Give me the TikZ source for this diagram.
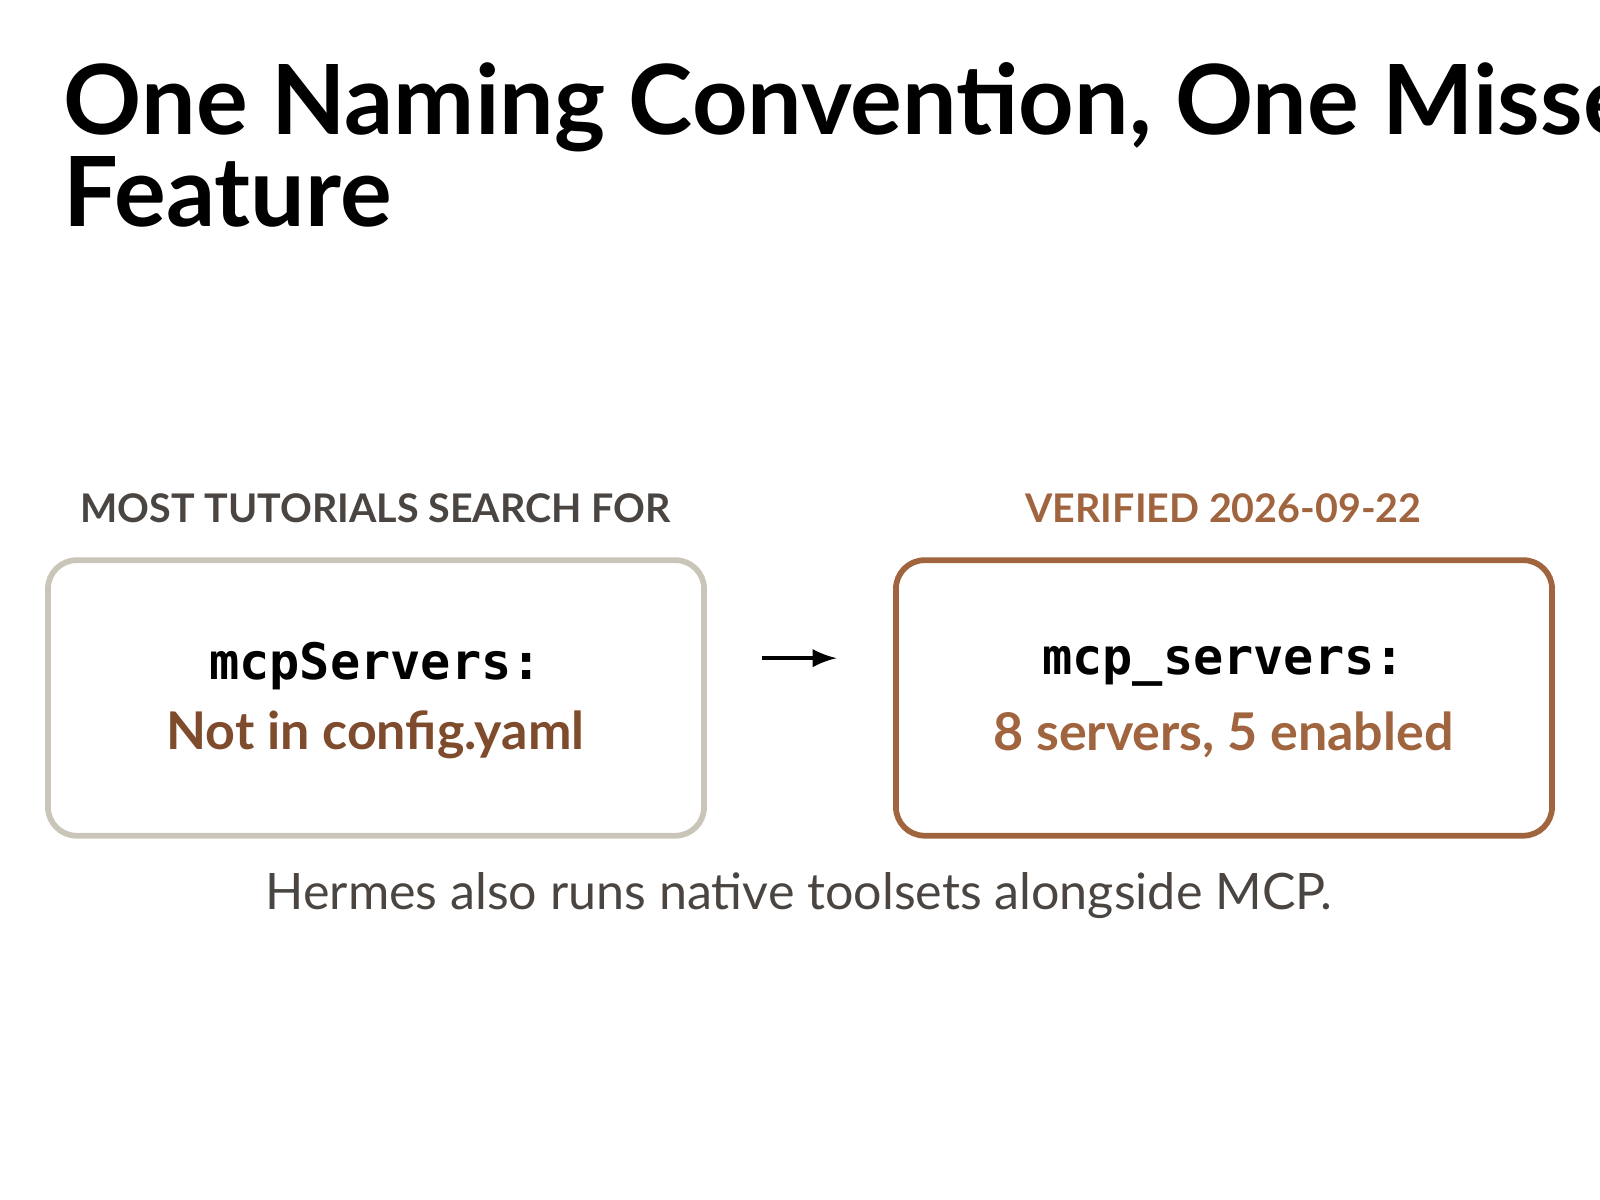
\documentclass[tikz,border=0pt]{standalone}
\usepackage{fontspec}
\setmainfont{Lato}
\setmonofont{DejaVu Sans Mono}
\usetikzlibrary{positioning}
\definecolor{rust}{HTML}{A0643F}
\definecolor{darkrust}{HTML}{7E4B2C}
\definecolor{stone}{HTML}{CAC5B9}
\definecolor{ink}{HTML}{4A4541}
\tikzset{
    card/.style={draw, line width=1.6pt, rounded corners=8pt, minimum width=6.43cm, minimum height=2.7cm},
    heading/.style={text=ink, font=\bfseries\fontsize{11}{13}\selectfont},
    key/.style={font=\ttfamily\bfseries\fontsize{14}{17}\selectfont},
    value/.style={font=\bfseries\fontsize{14.5}{17}\selectfont},
}
\begin{document}
\begin{tikzpicture}
    \useasboundingbox (0,0) rectangle (15.68,11.76);
    \node[anchor=north west, align=left, inner sep=0pt, font=\bfseries\fontsize{27}{23}\selectfont] (title) at (0.62,11.15) {One Naming Convention, One Missed\\Feature};

    \node[card, draw=stone] (old) at (3.685,4.92) {};
    \node[card, draw=rust] (new) at (11.995,4.92) {};

    \node[heading] (oldcap) at (3.68,6.78) {MOST TUTORIALS SEARCH FOR};
    \node[heading, text=rust] (newcap) at (11.99,6.78) {VERIFIED 2026-09-22};

    \node[key] (oldkey) at (3.68,5.23) {mcpServers:};
    \node[value, text=darkrust] (oldval) at (3.68,4.56) {Not in config.yaml};
    \node[key] (newkey) at (11.99,5.23) {mcp\_servers:};
    \node[value, text=rust] (newval) at (11.99,4.56) {8 servers, 5 enabled};

    \coordinate (a) at (7.47,5.31);
    \coordinate (b) at (8.2,5.31);
    \draw[-latex, line width=1.3pt] (a) -- (b);

    \node[text=ink, font=\fontsize{14}{17}\selectfont] (note) at (7.83,2.98) {Hermes also runs native toolsets alongside MCP.};
\end{tikzpicture}
\end{document}
